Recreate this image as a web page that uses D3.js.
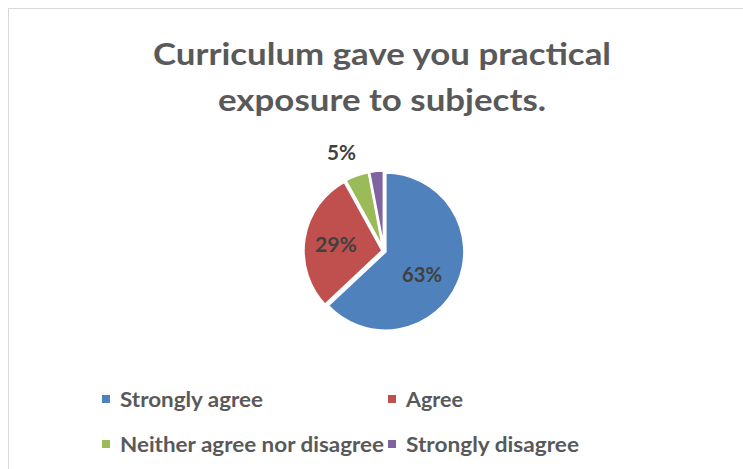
<!DOCTYPE html>
<html><head><meta charset="utf-8">
<script src="https://cdn.jsdelivr.net/npm/d3@7"></script>
<style>body{margin:0;background:#fff}svg{display:block}</style>
</head><body>
<svg id="c" width="743" height="469"></svg>
<script>
const categories = ["Strongly agree", "Agree", "Neither agree nor disagree", "Strongly disagree"];
const values = [63, 29, 5, 3];
const labels = ["63%", "29%", "5%", null];
const colors = ["#4F81BD", "#C0504D", "#9BBB59", "#8064A2"];
const titleLines = ["Curriculum gave you practical", "exposure to subjects."];

const svg = d3.select("#c");
const font = "Lato, 'Open Sans', sans-serif";
svg.append("rect").attr("x", 8.5).attr("y", 8.5).attr("width", 760).attr("height", 480)
  .attr("fill", "#fff").attr("stroke", "#d9d9d9");

function fitText(el, w) {
  el.attr("textLength", w).attr("lengthAdjust", "spacingAndGlyphs");
}

// title
const titleTargets = [{y: 65, w: 458}, {y: 111, w: 328}];
titleLines.forEach((t, i) => {
  const el = svg.append("text").attr("x", 382).attr("y", titleTargets[i].y)
    .attr("text-anchor", "middle").attr("font-family", font).attr("font-weight", "bold")
    .attr("font-size", 30).attr("fill", "#595959").text(t);
  fitText(el, titleTargets[i].w);
});

const cx = 384, cy = 251, r = 79;
const pie = d3.pie().sort(null).value(d => d)(values);
const arc = d3.arc().innerRadius(0).outerRadius(r);
const g = svg.append("g").attr("transform", `translate(${cx},${cy})`);
g.selectAll("path").data(pie).enter().append("path")
  .attr("d", arc)
  .attr("fill", (d, i) => colors[i])
  .attr("stroke", "#fff").attr("stroke-width", 2.5).attr("stroke-linejoin", "miter")
  .attr("transform", d => {
    const a = (d.startAngle + d.endAngle) / 2;
    const o = 1.5;
    return `translate(${o * Math.sin(a)},${-o * Math.cos(a)})`;
  });

const labelPos = [[422, 282], [336, 252], [341.5, 160]];
const labelW = [40, 42, 29];
labels.forEach((l, i) => {
  if (!l) return;
  const el = svg.append("text").attr("x", labelPos[i][0]).attr("y", labelPos[i][1])
    .attr("text-anchor", "middle").attr("font-family", font).attr("font-weight", "bold")
    .attr("font-size", 20).attr("fill", "#404040").text(l);
  fitText(el, labelW[i]);
});

// legend
const legPos = [[102, 407], [388, 407], [102, 452], [388, 452]];
const legW = [143, 57, 264, 173];
categories.forEach((c, i) => {
  const [x, y] = legPos[i];
  svg.append("rect").attr("x", x).attr("y", y - 12).attr("width", 8).attr("height", 8).attr("fill", colors[i]);
  const el = svg.append("text").attr("x", x + 18).attr("y", y).attr("font-family", font)
    .attr("font-weight", "bold").attr("font-size", 20).attr("fill", "#595959").text(c);
  fitText(el, legW[i]);
});
</script>
</body></html>
